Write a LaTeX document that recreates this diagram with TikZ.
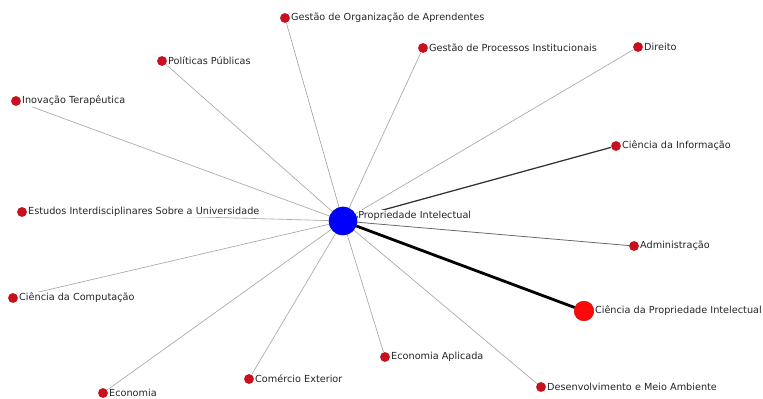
\documentclass[tikz,border=0pt]{standalone}
\usepackage{fontspec}
\setmainfont{DejaVu Sans}
\usepackage{tikz}
\definecolor{nodered}{RGB}{200,16,30}
\definecolor{hubblue}{RGB}{0,0,255}
\definecolor{bigred}{RGB}{250,10,10}
\tikzset{
  dot/.style={circle,fill=nodered,inner sep=0pt,minimum size=7},
  lbl/.style={anchor=west,fill=white,inner sep=0.5pt,text=black!85,font=\fontsize{6.9}{8}\selectfont},
  link/.style={draw=black!35,line width=0.45pt}
}
\begin{document}
\begin{tikzpicture}[x=0.025cm,y=-0.025cm]
        \useasboundingbox (0,0) rectangle (763,399);
        \fill[white] (0,0) rectangle (763,399);
        \node[circle,fill=hubblue,draw=blue!70!black,line width=0.3pt,inner sep=0pt,minimum size=20](h)at(343,221){};
        \node[circle,fill=bigred,draw=red!80!black,line width=0.3pt,inner sep=0pt,minimum size=14](cpi)at(584,311){};
        \node[dot](goa)at(285,18){};
        \node[dot](pp)at(162,61){};
        \node[dot](it)at(16,101){};
        \node[dot](gpi)at(423,48){};
        \node[dot](dir)at(638,47){};
        \node[dot](ci)at(616,146){};
        \node[dot](eisu)at(22,212){};
        \node[dot](adm)at(634,246){};
        \node[dot](cc)at(13,298){};
        \node[dot](ea)at(385,357){};
        \node[dot](ce)at(249,379){};
        \node[dot](eco)at(103,393){};
        \node[dot](dma)at(541,387){};
        \draw[link](h)--(goa);
        \draw[link](h)--(pp);
        \draw[link](h)--(it);
        \draw[link](h)--(gpi);
        \draw[link](h)--(dir);
        \draw[link](h)--(eisu);
        \draw[link](h)--(cc);
        \draw[link](h)--(ea);
        \draw[link](h)--(ce);
        \draw[link](h)--(eco);
        \draw[link](h)--(dma);
        \draw[link,draw=black!60,line width=0.55pt](h)--(adm);
        \draw[link,draw=black!80,line width=0.9pt](h)--(ci);
        \draw[line width=2pt,black](h)--(cpi);
        \node[lbl,yshift=4](lh)at(h.east){Propriedade Intelectual};
        \node[lbl](lcpi)at(cpi.east){Ciência da Propriedade Intelectual};
        \node[lbl](lgoa)at(goa.east){Gestão de Organização de Aprendentes};
        \node[lbl](lpp)at(pp.east){Políticas Públicas};
        \node[lbl](lit)at(it.east){Inovação Terapêutica};
        \node[lbl](lgpi)at(gpi.east){Gestão de Processos Institucionais};
        \node[lbl](ldir)at(dir.east){Direito};
        \node[lbl](lci)at(ci.east){Ciência da Informação};
        \node[lbl](leisu)at(eisu.east){Estudos Interdisciplinares Sobre a Universidade};
        \node[lbl](ladm)at(adm.east){Administração};
        \node[lbl](lcc)at(cc.east){Ciência da Computação};
        \node[lbl](lea)at(ea.east){Economia Aplicada};
        \node[lbl](lce)at(ce.east){Comércio Exterior};
        \node[lbl](leco)at(eco.east){Economia};
        \node[lbl](ldma)at(dma.east){Desenvolvimento e Meio Ambiente};
    \end{tikzpicture}
\end{document}
